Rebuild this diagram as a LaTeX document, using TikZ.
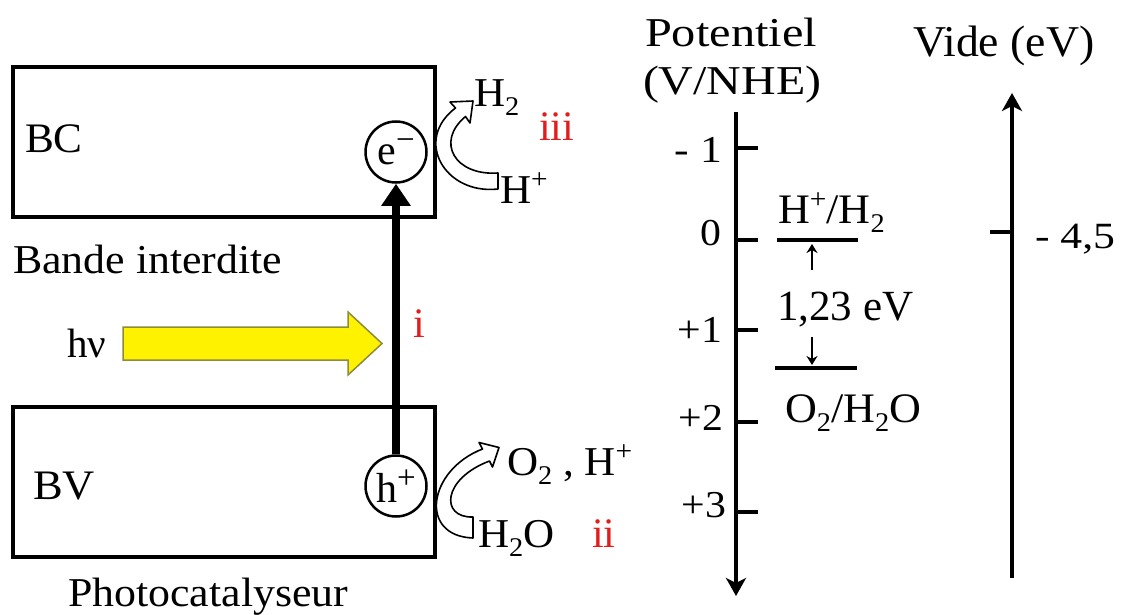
\documentclass[tikz,border=0pt]{standalone}
\usepackage{graphicx}
\usepackage{fontspec}
\setmainfont{Liberation Serif}
\usetikzlibrary{arrows.meta}
\newcommand\fsz[1]{\fontsize{#1}{#1}\selectfont}
\newcommand\hs[2]{\scalebox{#1}[1]{#2}}
\newcommand\dn[1]{\raisebox{-9pt}{\fsz{27}#1}}
\newcommand\up[1]{\raisebox{15pt}{\fsz{28}#1}}
\newcommand\upc[1]{\raisebox{14pt}{\fsz{33}#1}}
\definecolor{myred}{RGB}{225,30,30}
\definecolor{olivebd}{RGB}{140,140,60}
\begin{document}
\begin{tikzpicture}[x=1pt,y=-1pt,
  lbl/.style={inner sep=0pt, outer sep=0pt, anchor=base west},
  lble/.style={inner sep=0pt, outer sep=0pt, anchor=base east},
  redlbl/.style={lbl, text=myred},
  band/.style={draw, line width=4pt},
  carrier/.style={draw, circle, line width=2.5pt, minimum size=61pt, inner sep=0pt},
  hollow/.style={fill=white, draw=black, line width=1.6pt, line join=round},
  axis/.style={line width=4pt, -{Stealth[length=18pt,width=20pt,inset=5pt]}},
  tick/.style={line width=4pt},
  small/.style={line width=2.5pt, -{Stealth[length=9pt,width=11pt]}}]
\useasboundingbox (0,0) rectangle (1121,615);

% bands
\draw[band] (13,67) rectangle (435,217);
\draw[band] (13,407) rectangle (435,557);
\node[lbl] (bc) at (25,153) {\hs{1.03}{\fsz{42}BC}};
\node[lbl] (bv) at (33,499) {\hs{1.06}{\fsz{42}BV}};
\node[lbl] (bi) at (13,273) {\hs{1.07}{\fsz{41}Bande interdite}};
\node[lbl] (pc) at (68,606) {\hs{1.07}{\fsz{41}Photocatalyseur}};

% carriers
\node[carrier] (e) at (396,152) {\fsz{42}e\upc{−}};
\node[carrier] (h) at (396,486) {\fsz{42}h\upc{+}};
\draw[line width=8pt, -{Triangle[length=22pt,width=28pt]}] (h.north) -- (e.south);
\node[redlbl] (ri) at (413,337) {\fsz{42}i};

% light
\node[lbl] (hv) at (67,357) {\fsz{41}hν};
\draw[fill=yellow, draw=olivebd, line width=1.5pt] (123,327) -- (348,327) -- (348,312) -- (382,343.5) -- (348,375) -- (348,360) -- (123,360) -- cycle;

% reduction
\node[lbl] (h2) at (474,107) {\hs{1.05}{\fsz{41}H\dn{2}}};
\node[redlbl] (riii) at (539,140) {\fsz{42}iii};
\node[lbl] (hp) at (500,203) {\hs{1.05}{\fsz{41}H\up{+}}};
\draw[hollow] (498,189) .. controls (445,195) and (413,140) .. (455.5,108) -- (450,102) -- (473,101) -- (470,123) -- (465.5,116.5) .. controls (435,142) and (455,176) .. (498,173) -- cycle;

% oxidation
\node[lbl] (o2) at (507,475) {\hs{1.05}{\fsz{41}O\dn{2} , H\up{+}}};
\node[lbl] (h2o) at (478,547) {\hs{1.05}{\fsz{41}H\dn{2}O}};
\node[redlbl] (rii) at (592,547) {\fsz{42}ii};
\draw[hollow] (473,538) .. controls (418,536) and (428,470) .. (482.5,449) -- (479,442.5) -- (499,447.5) -- (492.5,467) -- (489.5,461) .. controls (442,479) and (440,518) .. (473,517) -- cycle;

% potential axis
\node[lbl] (pot) at (645,47) {\hs{1.18}{\fsz{41}Potentiel}};
\node[lbl] (nhe) at (643,95) {\hs{1.17}{\fsz{41}(V/NHE)}};
\coordinate (pt) at (736,112);
\coordinate (pb) at (736,596);
\draw[axis] (pt) -- (pb);
\draw[tick] (736,148) -- (758,148);
\draw[tick] (736,240) -- (758,240);
\draw[tick] (736,330) -- (758,330);
\draw[tick] (736,422) -- (758,422);
\draw[tick] (736,512) -- (758,512);
\node[lble] (tm1) at (722,162) {\hs{1.15}{\fsz{38}- 1}};
\node[lble] (t0) at (721,245) {\hs{1.1}{\fsz{38}0}};
\node[lble] (t1) at (722,342) {\hs{1.1}{\fsz{38}+1}};
\node[lble] (t2) at (723,430) {\hs{1.1}{\fsz{38}+2}};
\node[lble] (t3) at (726,517) {\hs{1.1}{\fsz{38}+3}};

% redox levels
\draw[tick] (777,240) -- (858,240);
\draw[tick] (775,368) -- (857,368);
\node[lbl] (hh2) at (778,223) {\hs{1.05}{\fsz{42}H\up{+}/H\dn{2}}};
\node[lbl] (oh2o) at (785,422) {\hs{1.05}{\fsz{42}O\dn{2}/H\dn{2}O}};
\node[lbl] (gap) at (777,320) {\fsz{43}1,23 eV};
\coordinate (a1) at (812,270);
\coordinate (a1e) at (812,244);
\coordinate (a2) at (812,337);
\coordinate (a2e) at (812,365);
\draw[small] (a1) -- (a1e);
\draw[small] (a2) -- (a2e);

% vacuum axis
\node[lbl] (vide) at (913,57) {\hs{1.04}{\fsz{44}Vide (eV)}};
\coordinate (vb) at (1012,578);
\coordinate (vt) at (1012,93);
\draw[axis, line width=3.5pt] (vb) -- (vt);
\draw[tick, line width=3.5pt] (990,232) -- (1012,232);
\node[lbl] (v45) at (1035,248) {\hs{1.18}{\fsz{37}- 4,5}};
\end{tikzpicture}
\end{document}
